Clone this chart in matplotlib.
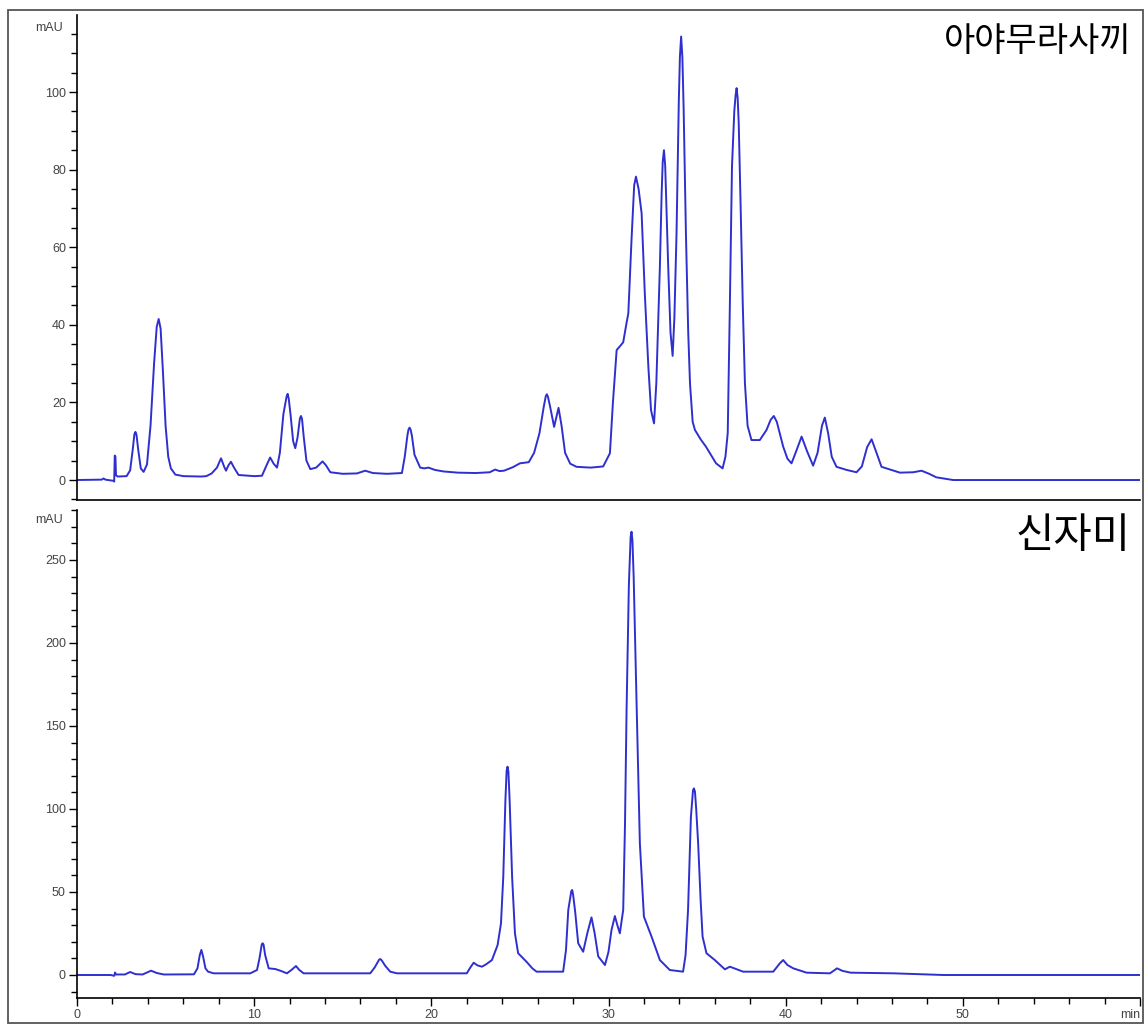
import matplotlib
matplotlib.use('Agg')
import matplotlib.pyplot as plt
from matplotlib.ticker import MultipleLocator, FixedLocator, FixedFormatter
from matplotlib.patches import Rectangle

plt.rcParams['font.family'] = ['Liberation Sans', 'DejaVu Sans']

# trace 1: 아야무라사끼 (time / min, signal / mAU)
t1 = [0, 1.4, 1.5, 1.6, 2.05, 2.1, 2.13, 2.17, 2.2, 2.3, 2.8,
      3.0, 3.15, 3.24, 3.3, 3.36, 3.45, 3.6, 3.76,
      3.95, 4.15, 4.35, 4.5, 4.61, 4.72, 4.85, 5.0, 5.15, 5.3, 5.55, 6.0, 7.0, 7.3, 7.6,
      7.9, 8.13, 8.3, 8.41, 8.55, 8.69, 8.85, 9.12, 10.0, 10.44,
      10.7, 10.9, 11.1, 11.29, 11.45, 11.65, 11.83, 11.89, 11.95, 12.05, 12.2, 12.32,
      12.45, 12.58, 12.64, 12.7, 12.8, 12.95, 13.17, 13.5, 13.86, 14.05, 14.3, 15.0,
      15.8, 16.27, 16.7, 17.5, 18.34,
      18.5, 18.65, 18.71, 18.77, 18.83, 18.9, 19.05, 19.37, 19.6, 19.84, 20.2, 20.7,
      21.5, 22.5, 23.3, 23.6, 23.85, 24.1, 24.6, 25.0, 25.5,
      25.8, 26.1, 26.35, 26.46, 26.52, 26.58, 26.7, 26.93, 27.05, 27.18, 27.35, 27.55,
      27.84, 28.2, 29.0, 29.7, 30.08,
      30.25, 30.46, 30.65, 30.83, 31.0, 31.12, 31.3, 31.45, 31.55, 31.7, 31.87, 32.05,
      32.25, 32.4, 32.57, 32.7, 32.9, 33.0, 33.06, 33.13, 33.2, 33.26, 33.37, 33.5,
      33.62, 33.72, 33.84, 33.97, 34.03, 34.1, 34.17, 34.24, 34.37, 34.5, 34.6, 34.75,
      34.88, 35.2, 35.5, 36.07, 36.44, 36.6, 36.73, 36.85, 36.97, 37.1, 37.17, 37.23,
      37.29, 37.35, 37.45, 37.58, 37.7, 37.85, 38.07, 38.54, 38.92, 39.15, 39.33, 39.5,
      39.86, 40.1, 40.33, 40.6, 40.9, 41.2, 41.55, 41.8, 42.05, 42.21, 42.4, 42.6,
      42.87, 43.44, 44.0, 44.3, 44.6, 44.85, 45.05, 45.41, 46.45, 47.2, 47.67, 48.1,
      48.5, 49.45, 60]
y1 = [0, 0.1, 0.4, 0.1, -0.2, -0.4, 6.3, 6.0, 1.2, 0.9, 1.0,
      2.5, 8, 11.8, 12.4, 11.6, 8, 3.0, 2.1,
      4, 14, 30, 39.5, 41.5, 39, 28, 14, 6, 3.0, 1.4, 1.0, 0.9, 1.0, 1.7,
      3.2, 5.6, 3.5, 2.4, 3.8, 4.7, 3.3, 1.3, 1.0, 1.1,
      3.8, 5.8, 4.2, 3.2, 7, 17, 21.5, 22.2, 21, 17, 10, 8.2,
      11, 15.8, 16.5, 15.8, 11, 5, 2.8, 3.2, 4.8, 3.8, 2.0, 1.6,
      1.7, 2.4, 1.8, 1.6, 1.8,
      6, 11.5, 13.0, 13.5, 13.0, 11.5, 6.5, 3.2, 3.0, 3.2, 2.6, 2.2,
      1.9, 1.8, 2.0, 2.7, 2.3, 2.4, 3.3, 4.3, 4.6,
      7, 12, 19, 21.6, 22.1, 21.5, 19, 13.7, 16, 18.6, 14, 7,
      4.2, 3.4, 3.2, 3.5, 6.9,
      20, 33.5, 34.5, 35.5, 40, 43, 62, 76, 78.2, 75, 68.7, 48,
      29.2, 18, 14.6, 25, 55, 74, 82, 85, 81, 72, 55, 38,
      32, 42, 63.6, 98, 109, 114.3, 109, 96, 63.6, 38, 24.9, 15,
      12.9, 10.5, 8.6, 4.3, 3.0, 6, 12.1, 45, 80.8, 95, 99, 101,
      98.5, 92, 72.2, 45, 25, 14, 10.3, 10.3, 12.9, 15.5, 16.5, 15,
      8.6, 5.5, 4.3, 7.5, 11.2, 7.5, 3.7, 7, 14, 16.1, 12, 6,
      3.4, 2.6, 2.0, 3.5, 8.5, 10.5, 8, 3.4, 1.9, 2.0, 2.4, 1.6,
      0.7, 0.0, 0.0]

# trace 2: 신자미
t2 = [0, 1.9, 2.1, 2.15, 2.2, 2.7, 3.0, 3.3, 3.7, 4.18, 4.5, 4.9, 6.6,
      6.8, 6.93, 7.02, 7.12, 7.25, 7.4, 7.71, 9.78,
      10.16, 10.3, 10.43, 10.48, 10.53, 10.62, 10.82, 11.19, 11.5, 11.85, 12.1, 12.36,
      12.55, 12.79, 16.55, 16.8, 17.05, 17.12, 17.2, 17.4, 17.68, 18.06, 22.0,
      22.2, 22.39, 22.6, 22.86, 23.1, 23.42, 23.74, 23.93, 24.06, 24.18, 24.25, 24.3,
      24.35, 24.42, 24.56, 24.72, 24.9, 25.37, 25.7, 25.94, 27.44,
      27.6, 27.73, 27.9, 27.95, 28.0, 28.12, 28.29, 28.57, 28.8, 29.04, 29.22, 29.42,
      29.8, 30.0, 30.17, 30.36, 30.5, 30.64, 30.83, 30.93, 31.02, 31.15, 31.25, 31.3,
      31.35, 31.42, 31.55, 31.77, 32.0, 32.43, 32.9, 33.46, 34.21,
      34.35, 34.49, 34.65, 34.77, 34.82, 34.88, 34.95, 35.06, 35.2, 35.31, 35.53, 36.0,
      36.57, 36.85, 37.6, 39.3, 39.67, 39.86, 40.1, 40.43, 41.18, 42.5, 42.9, 43.2,
      43.67, 46.1, 48.9, 60]
y2 = [0, 0, -0.5, 1.5, 0.3, 0.3, 1.8, 0.5, 0.3, 2.6, 1.2, 0.3, 0.4,
      4, 12, 15.1, 11, 4, 2, 1.0, 1.0,
      3.0, 10, 18.5, 19.1, 18.3, 12, 4.0, 3.6, 2.5, 1.0, 3, 5.4,
      3.0, 1.0, 1.0, 4.5, 9.2, 9.6, 8.8, 5.5, 2.0, 1.0, 1.0,
      4.5, 7.4, 5.8, 5.0, 6.5, 9.0, 18, 31, 59, 105, 123, 125.5,
      122.5, 105, 59, 25, 13.1, 8.0, 4.0, 2.0, 2.0,
      15, 39.2, 50.5, 51.2, 48.5, 38, 19.1, 14.0, 25, 34.7, 25, 11.2,
      6.0, 14, 27.1, 35.5, 30, 25.1, 39.2, 90, 159.6, 235, 264, 267,
      262, 240, 179.7, 79.3, 35.1, 23.1, 9.0, 3.0, 2.0,
      12, 39.2, 95, 111.3, 112.4, 110.5, 100, 79.3, 45, 23.1, 13.1, 9.0,
      3.4, 5.0, 2.0, 2.0, 7, 9.0, 6, 4.0, 1.4, 1.0, 4.0, 2.5,
      1.4, 1.0, 0.0, 0.0]

names = ['아야무라사끼', '신자미']
x_ticks = [0, 10, 20, 30, 40, 50, 60]
x_labels = ['0', '10', '20', '30', '40', '50', 'min']

W, H = 1145, 1026
fig = plt.figure(figsize=(W / 100, H / 100), dpi=100)

# outer frame
fig.patches.append(Rectangle((8 / W, 1 - 1023 / H), 1135 / W, 1013 / H,
                             transform=fig.transFigure, fill=False,
                             edgecolor='#555555', linewidth=1.3))

ax1 = fig.add_axes([77 / W, 1 - 500 / H, 1063 / W, 485 / H])
ax2 = fig.add_axes([77 / W, 1 - 998 / H, 1063 / W, 488 / H])

line_col = '#2f2fd0'
tick_col = '#444444'
kfont = ['Noto Sans CJK KR', 'DejaVu Sans']

for ax in (ax1, ax2):
    ax.set_xlim(0, 60)
    ax.patch.set_alpha(0)
    ax.spines['top'].set_visible(False)
    ax.spines['right'].set_visible(False)
    ax.spines['left'].set_linewidth(1.2)
    ax.spines['bottom'].set_linewidth(1.2)
    ax.tick_params(which='major', length=6, width=1.0, labelsize=9, labelcolor=tick_col, pad=2)
    ax.tick_params(which='minor', length=4, width=1.0)

ax1.plot(t1, y1, color=line_col, lw=1.4)
ax1.set_ylim(-5.15, 119.85)
ax1.yaxis.set_major_locator(MultipleLocator(20))
ax1.yaxis.set_minor_locator(MultipleLocator(5))
ax1.tick_params(axis='x', which='both', bottom=False, labelbottom=False)
ax1.text(-0.8, 116.5, 'mAU', ha='right', va='center', fontsize=9, color=tick_col)
ax1.text(59.5, 112.9, names[0], ha='right', va='center', fontsize=24.5,
         family=kfont, fontweight='light')

ax2.plot(t2, y2, color=line_col, lw=1.4)
ax2.set_ylim(-13.86, 280.1)
ax2.yaxis.set_major_locator(MultipleLocator(50))
ax2.yaxis.set_minor_locator(MultipleLocator(10))
ax2.xaxis.set_major_locator(FixedLocator(x_ticks))
ax2.xaxis.set_major_formatter(FixedFormatter(x_labels))
ax2.xaxis.set_minor_locator(MultipleLocator(2))
ax2.get_xticklabels()[-1].set_horizontalalignment('right')
ax2.text(-0.8, 274, 'mAU', ha='right', va='center', fontsize=9, color=tick_col)
ax2.text(59.5, 263.9, names[1], ha='right', va='center', fontsize=30,
         family=kfont, fontweight='light')

fig.savefig('out.png', dpi=100)
